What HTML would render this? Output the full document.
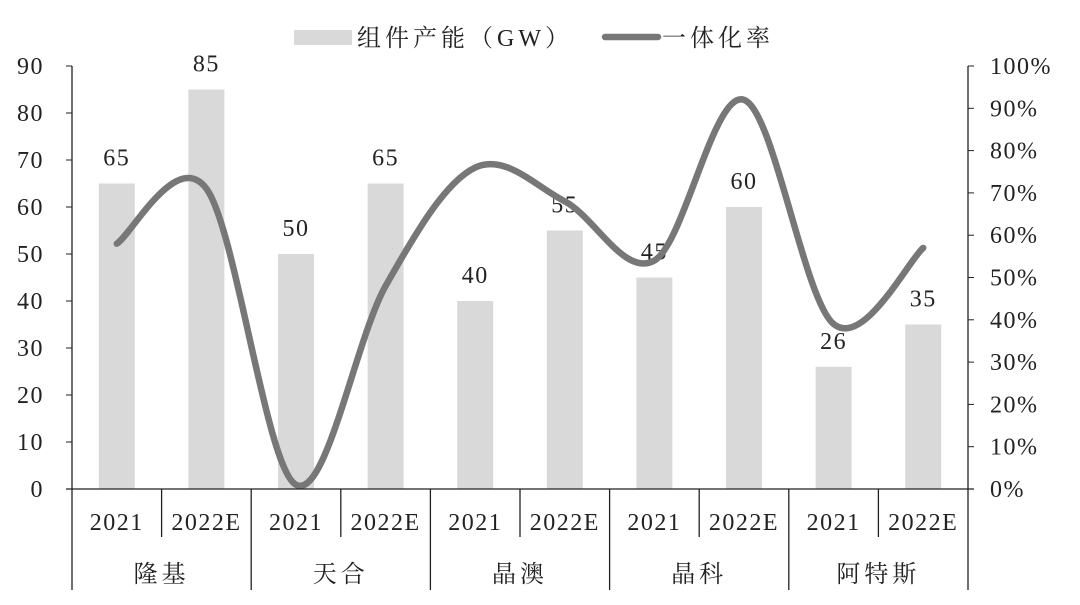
<!DOCTYPE html>
<html><head><meta charset="utf-8"><style>
body{margin:0;background:#fff}
svg{display:block;font-family:"Liberation Serif","Noto Serif CJK SC",serif}
</style></head><body>
<svg id="c" width="1080" height="605" viewBox="0 0 1080 605"></svg>
<script>
const groups=["隆基","天合","晶澳","晶科","阿特斯"];
const years=["2021","2022E"];
const capacity=[65,85,50,65,40,55,45,60,26,35];
const rate=[0.58,0.71,0.01,0.48,0.76,0.68,0.54,0.92,0.39,0.57];
const leftTicks=[0,10,20,30,40,50,60,70,80,90];
const rightTicks=[0,10,20,30,40,50,60,70,80,90,100];
const NS="http://www.w3.org/2000/svg",svg=document.getElementById('c');
const X0=72,X1=968,Y0=489,YT=66,slot=(X1-X0)/capacity.length;
const yL=v=>Y0-(Y0-YT)*v/90, yR=p=>Y0-(Y0-YT)*p, xC=i=>X0+slot*(i+0.5);
const FS=24, LS=1.5;
function el(t,a,txt){const e=document.createElementNS(NS,t);for(const k in a)e.setAttribute(k,a[k]);if(txt!=null)e.textContent=txt;svg.appendChild(e);return e;}
capacity.forEach((v,i)=>{
 const b=el('rect',{x:xC(i)-18,y:yL(v),width:36,height:Y0-yL(v),fill:'#d9d9d9'});
 
 
 const t=el('text',{x:xC(i),y:yL(v)-18,'text-anchor':'middle','font-size':FS,'letter-spacing':LS,fill:'#222'},String(v));
 
 
});
const pts=rate.map((p,i)=>[xC(i),yR(p)]);
let d='M'+pts[0][0]+','+pts[0][1];
for(let i=0;i<pts.length-1;i++){
 const p0=pts[i-1]||pts[i],p1=pts[i],p2=pts[i+1],p3=pts[i+2]||p2;
 const c1=[p1[0]+(p2[0]-p0[0])/6,p1[1]+(p2[1]-p0[1])/6],c2=[p2[0]-(p3[0]-p1[0])/6,p2[1]-(p3[1]-p1[1])/6];
 d+=' C'+c1+' '+c2+' '+p2;
}
const ln=el('path',{d:d,fill:'none',stroke:'#777','stroke-width':6.5,'stroke-linecap':'round'});


el('line',{x1:X0,y1:YT,x2:X0,y2:Y0,stroke:'#222','stroke-width':1.3});
el('line',{x1:X1,y1:YT,x2:X1,y2:Y0,stroke:'#222','stroke-width':1.3});
el('line',{x1:X0-6,y1:Y0,x2:X1+6,y2:Y0,stroke:'#222','stroke-width':1.3});
leftTicks.forEach(v=>{
 el('line',{x1:X0-6,y1:yL(v),x2:X0,y2:yL(v),stroke:'#222'});
 const t=el('text',{x:X0-28,y:yL(v)+8,'text-anchor':'end','font-size':FS,'letter-spacing':LS,fill:'#222'},String(v));
 
 
});
rightTicks.forEach(v=>{
 el('line',{x1:X1,y1:yR(v/100),x2:X1+6,y2:yR(v/100),stroke:'#222'});
 const t=el('text',{x:X1+22,y:yR(v/100)+8,'font-size':FS,'letter-spacing':LS,fill:'#222'},v+'%');
 
 
});
capacity.forEach((v,i)=>{
 const t=el('text',{x:xC(i),y:530,'text-anchor':'middle','font-size':FS,'letter-spacing':LS,fill:'#222'},years[i%2]);
 
 
 if(i%2==1) el('line',{x1:X0+slot*i,y1:Y0,x2:X0+slot*i,y2:537,stroke:'#222','stroke-width':1.3});
});
for(let g=0;g<=groups.length;g++) el('line',{x1:X0+slot*2*g,y1:Y0,x2:X0+slot*2*g,y2:590,stroke:'#222','stroke-width':1.3});
groups.forEach((g,i)=>{
 const t=el('text',{x:X0+slot*(2*i+1),y:582,'text-anchor':'middle','font-size':FS,'letter-spacing':4,fill:'#222'},g);
 
 
});
const l1=el('rect',{x:294,y:30,width:58,height:15,fill:'#d9d9d9'});


const lt1=el('text',{x:357,y:46,'font-size':FS,'letter-spacing':4,fill:'#222'},'组件产能（GW）');


const l2=el('line',{x1:605,y1:37,x2:658,y2:37,stroke:'#777','stroke-width':6.5,'stroke-linecap':'round'});


const lt2=el('text',{x:662,y:46,'font-size':FS,'letter-spacing':4,fill:'#222'},'一体化率');


</script>
</body></html>
